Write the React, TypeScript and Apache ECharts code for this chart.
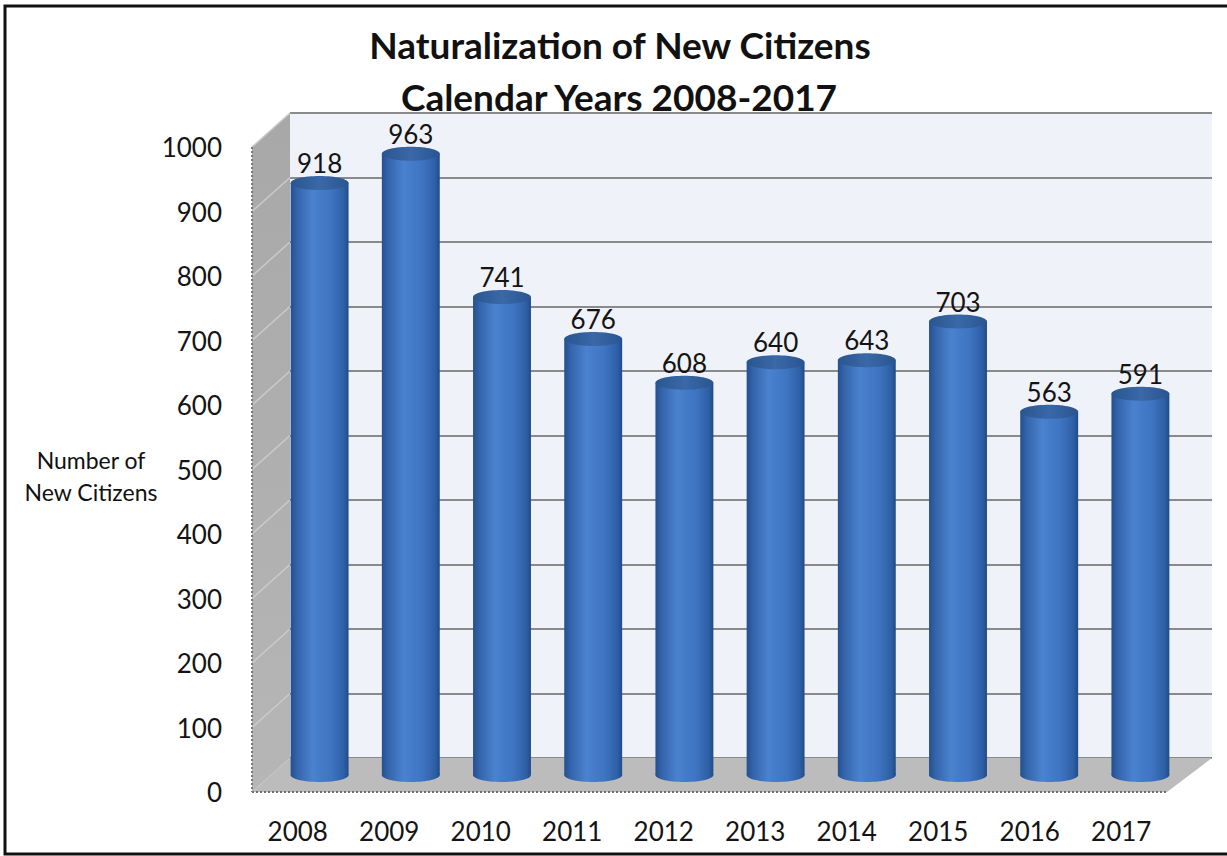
import React, { useEffect, useRef } from "react";
import * as echarts from "echarts";

const years = ["2008", "2009", "2010", "2011", "2012", "2013", "2014", "2015", "2016", "2017"];
const citizens = [918, 963, 741, 676, 608, 640, 643, 703, 563, 591];
const yTickValues = [0, 100, 200, 300, 400, 500, 600, 700, 800, 900, 1000];
const titleLines = ["Naturalization of New Citizens", "Calendar Years 2008-2017"];
const axisTitleLines = ["Number of", "New Citizens"];

const FONT = 'Lato, "Open Sans", "Noto Sans", sans-serif';
const DX_L = -38;
const DX_R = -45;
const DY = 34;

export default function App() {
  const ref = useRef<HTMLDivElement>(null);
  useEffect(() => {
    const chart = echarts.init(ref.current as HTMLDivElement, null, { renderer: "svg" });
    const yMin = yTickValues[0];
    const yMax = yTickValues[yTickValues.length - 1];
    const yInt = yTickValues[1] - yTickValues[0];

    const wallsSeries = {
      type: "custom",
      xAxisIndex: 0,
      yAxisIndex: 0,
      z: 2,
      silent: true,
      data: [[0, 0]],
      renderItem: (params: any, api: any) => {
        const cs = params.coordSys;
        const x0 = cs.x, y0 = cs.y, w = cs.width, h = cs.height;
        const yb = y0 + h;
        const children: any[] = [];
        children.push({
          type: "polygon",
          shape: { points: [[x0, y0], [x0, yb], [x0 + DX_L, yb + DY], [x0 + DX_L, y0 + DY]] },
          style: {
            fill: new echarts.graphic.LinearGradient(0, 0, 0, 1, [
              { offset: 0, color: "#a8a8a8" },
              { offset: 1, color: "#b6b6b6" },
            ]),
          },
        });
        yTickValues.forEach((t) => {
          if (t === yMin) return;
          const p = api.coord([0, t]);
          children.push({
            type: "line",
            shape: { x1: x0, y1: p[1], x2: x0 + DX_L, y2: p[1] + DY },
            style: { stroke: "#cacaca", lineWidth: 1.5 },
          });
        });
        children.push({
          type: "polygon",
          shape: { points: [[x0, yb], [x0 + w, yb], [x0 + w + DX_R, yb + DY], [x0 + DX_L, yb + DY]] },
          style: { fill: "#bcbcbc" },
        });
        children.push({
          type: "line",
          shape: { x1: x0 + DX_L, y1: yb + DY, x2: x0 + w + DX_R, y2: yb + DY },
          style: { stroke: "#6e6e6e", lineWidth: 2, lineDash: [2, 2] },
        });
        children.push({
          type: "line",
          shape: { x1: x0 + DX_L, y1: y0 + DY, x2: x0 + DX_L, y2: yb + DY },
          style: { stroke: "#7a7a7a", lineWidth: 2, lineDash: [2, 2] },
        });
        return { type: "group", children };
      },
    };

    const barGrad = () =>
      new echarts.graphic.LinearGradient(0, 0, 1, 0, [
        { offset: 0, color: "#24508f" },
        { offset: 0.12, color: "#3565ac" },
        { offset: 0.38, color: "#4a82cf" },
        { offset: 0.7, color: "#3e74c1" },
        { offset: 0.92, color: "#2d5fa6" },
        { offset: 1, color: "#214a86" },
      ]);

    const cylinderSeries = {
      type: "custom",
      xAxisIndex: 1,
      yAxisIndex: 1,
      z: 3,
      data: citizens.map((v, i) => [i, v]),
      encode: { x: 0, y: 1 },
      renderItem: (params: any, api: any) => {
        const i = api.value(0);
        const v = api.value(1);
        const top = api.coord([i, v]);
        const bot = api.coord([i, 0]);
        const bw = api.size([1, 0])[0] * 0.635;
        const cx = top[0];
        const rx = bw / 2;
        const ry = 7;
        return {
          type: "group",
          children: [
            { type: "ellipse", shape: { cx, cy: bot[1], rx, ry }, style: { fill: barGrad() } },
            { type: "rect", shape: { x: cx - rx, y: top[1], width: bw, height: bot[1] - top[1] }, style: { fill: barGrad() } },
            {
              type: "ellipse",
              shape: { cx, cy: top[1], rx, ry },
              style: {
                fill: new echarts.graphic.LinearGradient(0, 0, 1, 0, [
                  { offset: 0, color: "#2a568f" },
                  { offset: 0.5, color: "#3a68a8" },
                  { offset: 1, color: "#2a5590" },
                ]),
              },
            },
            {
              type: "text",
              style: {
                text: String(v),
                x: cx,
                y: top[1] - 20,
                textAlign: "center",
                textVerticalAlign: "middle",
                fontFamily: FONT,
                fontSize: 26,
                fill: "#141414",
              },
            },
          ],
        };
      },
    };

    const hiddenAxis = { show: false };

    const option: any = {
      animation: false,
      backgroundColor: "#ffffff",
      graphic: [
        {
          type: "rect",
          shape: { x: 5, y: 6, width: 1240, height: 848 },
          style: { fill: "none", stroke: "#111", lineWidth: 3 },
          z: 10,
        },
        {
          type: "text",
          x: 620,
          y: 44,
          style: { text: titleLines[0], textAlign: "center", textVerticalAlign: "middle", fontFamily: FONT, fontWeight: "bold", fontSize: 37, fill: "#111" },
        },
        {
          type: "text",
          x: 619,
          y: 96,
          style: { text: titleLines[1], textAlign: "center", textVerticalAlign: "middle", fontFamily: FONT, fontWeight: "bold", fontSize: 37, fill: "#111" },
        },
        {
          type: "text",
          x: 91,
          y: 460,
          style: { text: axisTitleLines[0], textAlign: "center", textVerticalAlign: "middle", fontFamily: FONT, fontSize: 23, fill: "#111" },
        },
        {
          type: "text",
          x: 91,
          y: 492,
          style: { text: axisTitleLines[1], textAlign: "center", textVerticalAlign: "middle", fontFamily: FONT, fontSize: 23, fill: "#111" },
        },
      ],
      grid: [
        { left: 290, top: 113, width: 922, height: 645, show: true, backgroundColor: "#eff2f8", borderWidth: 0 },
        { left: 274, top: 130, width: 912, height: 645 },
        { left: 252, top: 147, width: 915, height: 645 },
      ],
      xAxis: [
        { gridIndex: 0, type: "category", data: years, ...hiddenAxis },
        { gridIndex: 1, type: "category", data: years, ...hiddenAxis },
        {
          gridIndex: 2,
          type: "category",
          data: years,
          axisLine: { show: false },
          axisTick: { show: false },
          axisLabel: { fontFamily: FONT, fontSize: 26, color: "#141414", margin: 26 },
        },
      ],
      yAxis: [
        {
          gridIndex: 0,
          type: "value",
          min: yMin,
          max: yMax,
          interval: yInt,
          axisLabel: { show: false },
          axisLine: { show: false },
          axisTick: { show: false },
          splitLine: { show: true, lineStyle: { color: "#8a8a8a", width: 2 } },
        },
        { gridIndex: 1, type: "value", min: yMin, max: yMax, interval: yInt, ...hiddenAxis },
        {
          gridIndex: 2,
          type: "value",
          min: yMin,
          max: yMax,
          interval: yInt,
          axisLine: { show: false },
          axisTick: { show: false },
          splitLine: { show: false },
          axisLabel: {
            fontFamily: FONT,
            fontSize: 26,
            color: "#141414",
            margin: 30,
            formatter: (v: number) => String(v),
          },
        },
      ],
      series: [wallsSeries, cylinderSeries],
    };
    chart.setOption(option);
    return () => chart.dispose();
  }, []);

  return (
    <div
      ref={ref}
      style={{ position: "fixed", left: 0, top: 0, width: 1227, height: 856, background: "#fff" }}
    />
  );
}
